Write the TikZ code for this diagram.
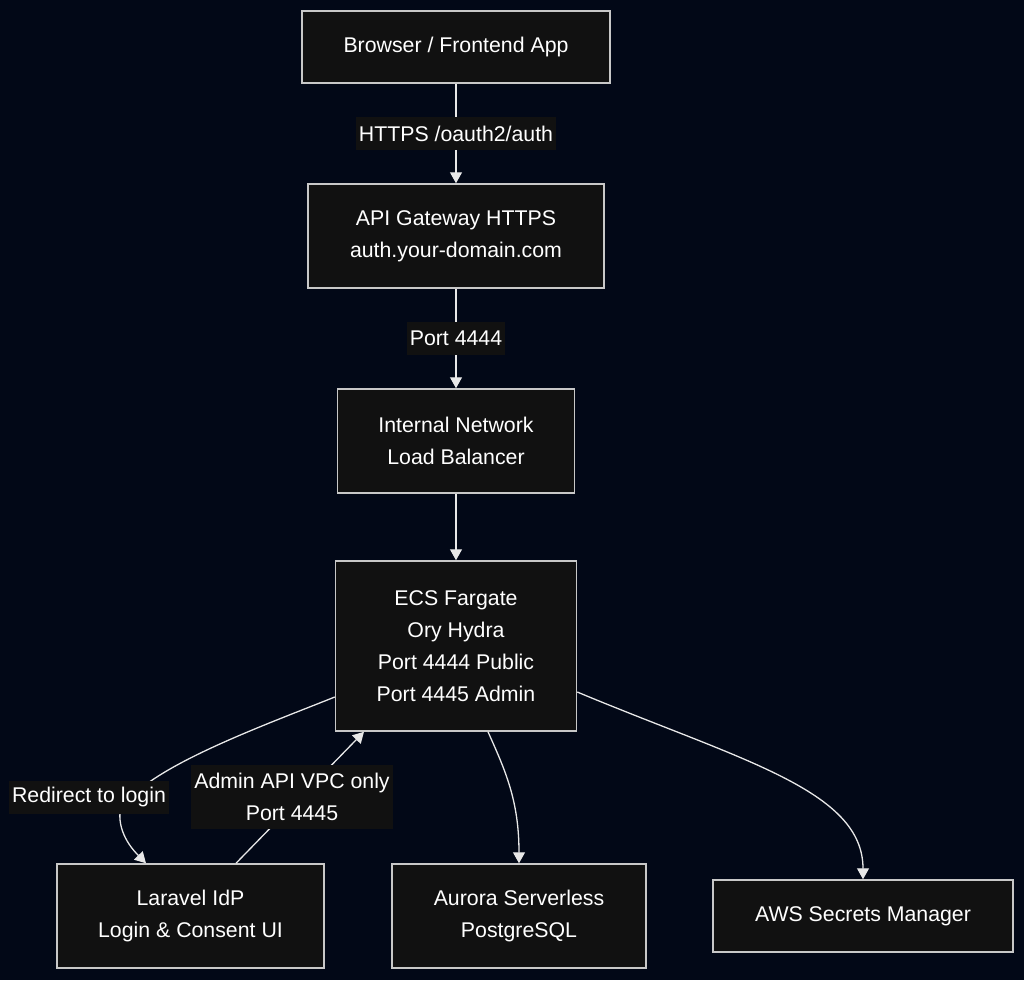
\documentclass[tikz,border=0pt]{standalone}
\usepackage{fontspec}
\setmainfont{Liberation Sans}
\usetikzlibrary{arrows.meta,calc}
\definecolor{bg}{HTML}{020817}
\definecolor{nodefill}{HTML}{111111}
\definecolor{nodeborder}{HTML}{C8C8C8}
\definecolor{edgecol}{HTML}{E8E8E8}
\begin{document}
\begin{tikzpicture}[x=1pt,y=-1pt,
  box/.style={draw=nodeborder, fill=nodefill, line width=1.5pt, text=white,
    font=\fontsize{21.3}{32}\selectfont, align=center, inner sep=0pt},
  edge/.style={draw=edgecol, line width=1.3pt, -{Triangle[width=12pt,length=11pt]}},
  lbl/.style={fill=nodefill, text=white, font=\fontsize{21.3}{32}\selectfont,
    align=center, inner xsep=3pt, inner ysep=0pt}]
\fill[bg] (0,0) rectangle (1024,980);
\useasboundingbox (0,0) rectangle (1024,980);

\node[box, minimum width=308, minimum height=72] (browser) at (456,47) {Browser / Frontend App};
\node[box, minimum width=296, minimum height=104] (api) at (456,236) {API Gateway HTTPS\\auth.your-domain.com};
\node[box, minimum width=237, minimum height=104] (lb) at (456,441) {Internal Network\\Load Balancer};
\node[box, minimum width=241, minimum height=170] (ecs) at (456,646) {ECS Fargate\\Ory Hydra\\Port 4444 Public\\Port 4445 Admin};
\node[box, minimum width=267, minimum height=104] (lar) at (190.5,916) {Laravel IdP\\Login \& Consent UI};
\node[box, minimum width=254, minimum height=104] (aur) at (519,916) {Aurora Serverless\\PostgreSQL};
\node[box, minimum width=300, minimum height=72] (sec) at (863,916) {AWS Secrets Manager};

\draw[edge] (browser) -- node[lbl, minimum height=33] (l1) {HTTPS /oauth2/auth} (api);
\draw[edge] (api) -- node[lbl, minimum height=33] (l2) {Port 4444} (lb);
\draw[edge] (lb) -- (ecs);

\draw[edge] ($(ecs.west)+(0,51)$) .. controls (260,727) and (140,770) .. (120,812)
  .. controls (118,835) and (135,852) .. ($(lar.north)+(-44.5,0)$);
\node[lbl, minimum height=33] (l3) at (89,797) {Redirect to login};

\draw[edge] ($(lar.north)+(45.5,0)$) -- ($(ecs.south)+(-92,0)$);
\node[lbl, minimum height=64, minimum width=196] (l4) at (292,797) {Admin API VPC only\\Port 4445};

\draw[edge] ($(ecs.south)+(32,0)$) .. controls (505,770) and (519,800) .. (aur.north);
\draw[edge] ($(ecs.east)+(0,46)$) .. controls (740,760) and (863,790) .. (sec.north);
\end{tikzpicture}
\end{document}
